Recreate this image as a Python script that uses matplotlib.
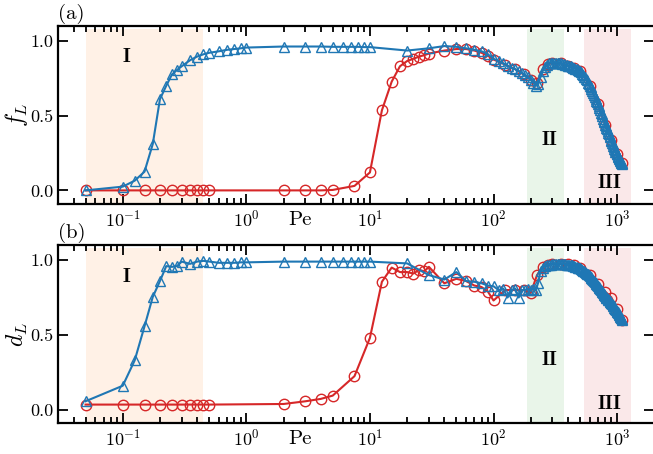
"""Two-panel f_L / d_L vs Pe figure."""
import numpy as np
import matplotlib
matplotlib.use("Agg")
import matplotlib.pyplot as plt

# ---- data -------------------------------------------------------------
PE_BLUE_LOW = [0.05, 0.1, 0.125, 0.15, 0.175, 0.2, 0.225, 0.25, 0.275, 0.3,
               0.35, 0.4, 0.45, 0.5, 0.6, 0.7, 0.8, 0.9, 1, 2, 3, 4, 5, 6,
               7, 8, 9, 10, 20, 30, 40, 50, 60, 70, 80, 90]
PE_DENSE = list(range(100, 1101, 10))

FL_BLUE_LOW = [0.0, 0.025, 0.065, 0.125, 0.31, 0.61, 0.70, 0.775, 0.805, 0.83,
               0.87, 0.895, 0.91, 0.92, 0.93, 0.94, 0.945, 0.95, 0.955, 0.962,
               0.962, 0.962, 0.96, 0.96, 0.96, 0.96, 0.958, 0.958, 0.935, 0.95,
               0.965, 0.96, 0.95, 0.94, 0.93, 0.91]
FL_BLUE_DENSE = [
    0.88, 0.865, 0.85, 0.835, 0.82, 0.81, 0.80, 0.785, 0.77, 0.755,
    0.74, 0.72, 0.70, 0.71, 0.76, 0.80, 0.825, 0.84, 0.85, 0.855,
    0.855, 0.855, 0.855, 0.855, 0.85, 0.85, 0.845, 0.845, 0.84, 0.84,
    0.835, 0.83, 0.83, 0.825, 0.82, 0.82, 0.815, 0.81, 0.805, 0.80,
    0.795, 0.79, 0.78, 0.77, 0.76, 0.755, 0.745, 0.735, 0.72, 0.71,
    0.70, 0.69, 0.675, 0.665, 0.65, 0.64, 0.625, 0.61, 0.60, 0.59,
    0.58, 0.565, 0.55, 0.535, 0.52, 0.51, 0.495, 0.48, 0.465, 0.455,
    0.44, 0.43, 0.42, 0.41, 0.395, 0.385, 0.375, 0.365, 0.355, 0.34,
    0.33, 0.32, 0.31, 0.30, 0.29, 0.28, 0.27, 0.26, 0.255, 0.245,
    0.24, 0.23, 0.225, 0.215, 0.21, 0.20, 0.195, 0.19, 0.185, 0.18,
    0.175]

DL_BLUE_LOW = [0.056, 0.16, 0.33, 0.557, 0.754, 0.86, 0.96, 0.955, 0.96, 0.99,
               0.975, 0.99, 0.995, 0.99, 0.982, 0.982, 0.982, 0.985, 0.985, 0.99,
               0.99, 0.99, 0.99, 0.99, 0.99, 0.99, 0.99, 0.99, 0.978, 0.90,
               0.87, 0.92, 0.86, 0.855, 0.845, 0.83]
DL_BLUE_DENSE = [
    0.825, 0.80, 0.81, 0.75, 0.80, 0.81, 0.75, 0.80, 0.80, 0.81,
    0.80, 0.81, 0.80, 0.85, 0.93, 0.95, 0.96, 0.965, 0.97, 0.97,
    0.975, 0.975, 0.975, 0.975, 0.975, 0.975, 0.975, 0.975, 0.975, 0.97,
    0.97, 0.97, 0.965, 0.965, 0.96, 0.96, 0.955, 0.955, 0.95, 0.95,
    0.945, 0.94, 0.935, 0.93, 0.925, 0.92, 0.915, 0.91, 0.905, 0.90,
    0.895, 0.89, 0.88, 0.875, 0.87, 0.86, 0.855, 0.85, 0.84, 0.835,
    0.83, 0.82, 0.815, 0.81, 0.80, 0.795, 0.785, 0.78, 0.775, 0.77,
    0.76, 0.755, 0.75, 0.745, 0.74, 0.735, 0.73, 0.725, 0.72, 0.715,
    0.71, 0.705, 0.70, 0.695, 0.69, 0.68, 0.675, 0.67, 0.665, 0.66,
    0.655, 0.65, 0.645, 0.64, 0.635, 0.625, 0.62, 0.615, 0.61, 0.605,
    0.60]

PE_RED = [0.05, 0.1, 0.15, 0.2, 0.25, 0.3, 0.35, 0.4, 0.45, 0.5,
          2, 3, 4, 5, 7.5, 10, 12.5, 15, 17.5, 20, 22.5, 25, 27.5, 30,
          40, 50, 60, 70, 80, 90, 100, 125, 150, 175, 200, 225, 250, 275,
          300, 350, 400, 450, 500, 600, 700, 800, 900, 1000, 1100]
FL_RED = [0, 0, 0, 0, 0, 0, 0, 0, 0, 0,
          0, 0, 0, 0.003, 0.03, 0.12, 0.535, 0.727, 0.83, 0.865, 0.88, 0.895, 0.904, 0.915,
          0.935, 0.945, 0.945, 0.935, 0.92, 0.90, 0.875, 0.84, 0.81, 0.775, 0.74, 0.715,
          0.81, 0.845, 0.85, 0.85, 0.835, 0.82, 0.80, 0.70, 0.575, 0.44, 0.34, 0.24, 0.18]
DL_RED = [0.034, 0.034, 0.034, 0.034, 0.034, 0.034, 0.034, 0.034, 0.034, 0.034,
          0.038, 0.056, 0.072, 0.094, 0.224, 0.48, 0.855, 0.95, 0.92, 0.92, 0.91, 0.935, 0.925, 0.955,
          0.845, 0.875, 0.86, 0.83, 0.82, 0.79, 0.73, 0.80, 0.80, 0.80, 0.78, 0.90,
          0.955, 0.97, 0.975, 0.975, 0.975, 0.965, 0.95, 0.90, 0.84, 0.79, 0.75, 0.67, 0.60]

REGIONS = [(0.05, 0.45, "tab:orange"), (185, 375, "tab:green"), (540, 1300, "tab:red")]
REGION_LABELS = ["I", "II", "III"]
LABEL_PE = [0.108, 285, 860]
LABEL_Y = {"a": [0.895, 0.34, 0.05], "b": [0.885, 0.33, 0.04]}

plt.rcParams.update({
    "font.family": "serif",
    "font.serif": ["cmr10", "DejaVu Serif"],
    "mathtext.fontset": "cm",
    "axes.formatter.use_mathtext": True,
    "font.size": 13,
    "axes.linewidth": 1.6,
})

BLUE = "#1f77b4"
RED = "#d62728"


def panel(ax, tag, ylab, blue_low, blue_dense, red):
    for x0, x1, c in REGIONS:
        ax.axvspan(x0, x1, ymin=0, ymax=0.985, color=c, alpha=0.1, lw=0, zorder=0)
    ax.plot(PE_RED, red, "-o", color=RED, mfc="none", ms=7.5, mew=1.0, lw=1.5, zorder=2)
    ax.plot(PE_BLUE_LOW + PE_DENSE, blue_low + blue_dense, "-^", color=BLUE,
            mfc="none", ms=7.5, mew=1.0, lw=1.5, zorder=3)
    for lab, px, py in zip(REGION_LABELS, LABEL_PE, LABEL_Y[tag]):
        ax.text(px, py, r"$\mathbf{%s}$" % lab, ha="center", va="center", fontsize=14)
    ax.set_xscale("log")
    ax.set_xlim(0.03, 2000)
    ax.set_ylim(-0.09, 1.1)
    ax.set_yticks([0.0, 0.5, 1.0])
    ax.set_yticklabels(["0.0", "0.5", "1.0"])
    ax.tick_params(which="both", direction="in", top=True, right=True, width=1.3,
                   labelsize=13)
    ax.tick_params(which="major", length=7)
    ax.tick_params(which="minor", length=4)
    ax.set_ylabel(ylab, fontsize=17, labelpad=0)
    ax.set_xlabel("Pe", fontsize=15)
    ax.xaxis.set_label_coords(0.405, -0.04)
    ax.text(0.0, 1.01, "(%s)" % tag, transform=ax.transAxes, ha="left", va="bottom", fontsize=15)


def main():
    fig = plt.figure(figsize=(6.53, 4.54), dpi=100)
    ax1 = fig.add_axes([0.089, 0.551, 0.913, 0.392])
    ax2 = fig.add_axes([0.089, 0.068, 0.913, 0.392])
    panel(ax1, "a", r"$f_L$", FL_BLUE_LOW, FL_BLUE_DENSE, FL_RED)
    panel(ax2, "b", r"$d_L$", DL_BLUE_LOW, DL_BLUE_DENSE, DL_RED)
    fig.savefig("out.png", dpi=100)


if __name__ == "__main__":
    main()
